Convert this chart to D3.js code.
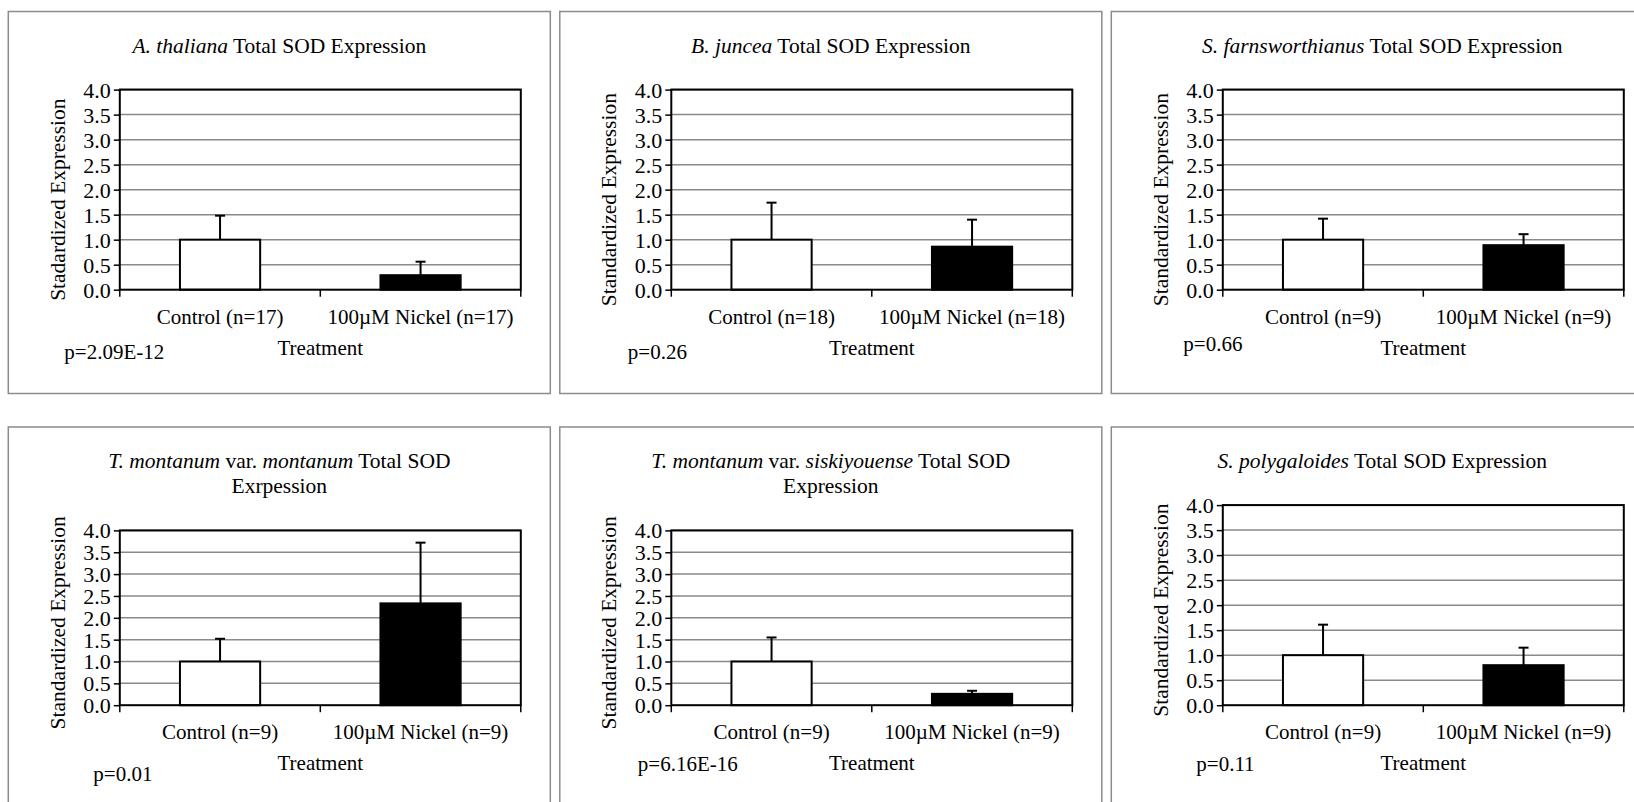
<!DOCTYPE html>
<html>
<head>
<meta charset="utf-8">
<style>
  body { margin: 0; background: #fff; }
  svg text { font-family: "Liberation Serif", "Times New Roman", serif; fill: #000; }
</style>
<script src="https://d3js.org/d3.v7.min.js"></script>
</head>
<body>
<script>
// chart values, one entry per panel
var titleLines = [
  [[["A. thaliana", true], [" Total SOD Expression", false]]],
  [[["B. juncea", true], [" Total SOD Expression", false]]],
  [[["S. farnsworthianus", true], [" Total SOD Expression", false]]],
  [[["T. montanum", true], [" var. ", false], ["montanum", true], [" Total SOD", false]], [["Exrpession", false]]],
  [[["T. montanum", true], [" var. ", false], ["siskiyouense", true], [" Total SOD", false]], [["Expression", false]]],
  [[["S. polygaloides", true], [" Total SOD Expression", false]]]
];
var yTitles = ["Stadardized Expression", "Standardized Expression", "Standardized Expression",
               "Standardized Expression", "Standardized Expression", "Standardized Expression"];
var nControl = [17, 18, 9, 9, 9, 9];
var nNickel = [17, 18, 9, 9, 9, 9];
var controlMean = [1.0, 1.0, 1.0, 1.0, 1.0, 1.0];
var controlErr = [0.48, 0.74, 0.42, 0.52, 0.55, 0.61];
var nickelMean = [0.29, 0.86, 0.89, 2.33, 0.26, 0.80];
var nickelErr = [0.27, 0.54, 0.22, 1.39, 0.07, 0.35];
var pValues = ["p=2.09E-12", "p=0.26", "p=0.66", "p=0.01", "p=6.16E-16", "p=0.11"];
var yTicks = [0, 0.5, 1.0, 1.5, 2.0, 2.5, 3.0, 3.5, 4.0];
var xTitle = "Treatment";

// layout (pixels)
var W = 1634, H = 802;
var panelW = 542, panelH = 382, colStep = 551.5;
var rowTop = [11.5, 427];
var pPos = [[56, 347], [68, 347], [72, 339], [85, 354], [78, 344], [85, 344]];
var yTitleDy = [10, 10, 10, 5, 5, 5];
var fs = 21;

var svg = d3.select("body").append("svg")
    .attr("width", W)
    .attr("height", H);

function drawPanel(i) {
  var row = Math.floor(i / 3), col = i % 3;
  var px = 8.3 + col * colStep, py = rowTop[row];
  var g = svg.append("g").attr("transform", "translate(" + px + "," + py + ")");

  g.append("rect")
    .attr("width", panelW).attr("height", panelH)
    .attr("fill", "#fff").attr("stroke", "#8c8c8c").attr("stroke-width", 1.5);

  // title
  var lines = titleLines[i];
  lines.forEach(function(segs, li) {
    var t = g.append("text")
      .attr("x", panelW / 2).attr("y", 41 + li * 25)
      .attr("text-anchor", "middle").attr("font-size", 21.5);
    segs.forEach(function(s) {
      t.append("tspan").attr("font-style", s[1] ? "italic" : "normal").text(s[0]);
    });
  });

  var pl = 111.5, pr = 512.5, pb = 278.2;
  var pt = lines.length > 1 ? 103.4 : 78.1;

  var y = d3.scaleLinear().domain([0, 4]).range([pb, pt]);
  var cats = ["Control (n=" + nControl[i] + ")", "100\u00b5M Nickel (n=" + nNickel[i] + ")"];
  var x = d3.scaleBand().domain(cats).range([pl, pr])
      .paddingInner(0.6).paddingOuter(0.3);

  // gridlines
  g.append("g").selectAll("line").data(yTicks.slice(1)).join("line")
    .attr("x1", pl).attr("x2", pr)
    .attr("y1", function(d) { return y(d); }).attr("y2", function(d) { return y(d); })
    .attr("stroke", "#8a8a8a").attr("stroke-width", 1.5);

  // y axis
  var ya = g.append("g").attr("transform", "translate(" + pl + ",0)")
    .call(d3.axisLeft(y).tickValues(yTicks).tickFormat(d3.format(".1f")).tickSize(6).tickPadding(3));
  ya.select(".domain").remove();
  ya.selectAll(".tick line").attr("stroke", "#000").attr("stroke-width", 1.5);
  ya.selectAll(".tick text").attr("font-size", 22).attr("font-family", "Liberation Serif, serif").attr("dy", "0.34em");

  var data = [
    { c: cats[0], v: controlMean[i], e: controlErr[i], fill: "#fff" },
    { c: cats[1], v: nickelMean[i], e: nickelErr[i], fill: "#000" }
  ];

  // error bars (upper only)
  var eb = g.append("g").selectAll("g").data(data).join("g");
  eb.append("line")
    .attr("x1", function(d) { return x(d.c) + x.bandwidth() / 2; })
    .attr("x2", function(d) { return x(d.c) + x.bandwidth() / 2; })
    .attr("y1", function(d) { return y(d.v); })
    .attr("y2", function(d) { return y(d.v + d.e); })
    .attr("stroke", "#000").attr("stroke-width", 2);
  eb.append("line")
    .attr("x1", function(d) { return x(d.c) + x.bandwidth() / 2 - 5; })
    .attr("x2", function(d) { return x(d.c) + x.bandwidth() / 2 + 5; })
    .attr("y1", function(d) { return y(d.v + d.e); })
    .attr("y2", function(d) { return y(d.v + d.e); })
    .attr("stroke", "#000").attr("stroke-width", 2);

  // bars
  g.append("g").selectAll("rect").data(data).join("rect")
    .attr("x", function(d) { return x(d.c); })
    .attr("y", function(d) { return y(d.v); })
    .attr("width", x.bandwidth())
    .attr("height", function(d) { return y(0) - y(d.v); })
    .attr("fill", function(d) { return d.fill; })
    .attr("stroke", "#000").attr("stroke-width", 2);

  // plot frame
  g.append("rect")
    .attr("x", pl).attr("y", pt)
    .attr("width", pr - pl).attr("height", pb - pt)
    .attr("fill", "none").attr("stroke", "#000").attr("stroke-width", 2);

  // x axis with category boundary ticks
  var bounds = [pl, (pl + pr) / 2, pr];
  g.append("g").selectAll("line").data(bounds).join("line")
    .attr("x1", function(d) { return d; }).attr("x2", function(d) { return d; })
    .attr("y1", pb).attr("y2", pb + 7)
    .attr("stroke", "#000").attr("stroke-width", 1.5);

  g.append("g").selectAll("text").data(cats).join("text")
    .attr("x", function(d) { return x(d) + x.bandwidth() / 2; })
    .attr("y", pb + 34)
    .attr("text-anchor", "middle").attr("font-size", fs)
    .text(function(d) { return d; });

  g.append("text")
    .attr("x", (pl + pr) / 2).attr("y", pb + 65)
    .attr("text-anchor", "middle").attr("font-size", fs)
    .text(xTitle);

  g.append("text")
    .attr("transform", "translate(49," + ((pt + pb) / 2 + yTitleDy[i]) + ") rotate(-90)")
    .attr("dy", "0.35em")
    .attr("text-anchor", "middle").attr("font-size", 21.5)
    .text(yTitles[i]);

  g.append("text")
    .attr("x", pPos[i][0]).attr("y", pPos[i][1])
    .attr("font-size", fs)
    .text(pValues[i]);
}

for (var k = 0; k < 6; k++) drawPanel(k);
</script>
</body>
</html>
